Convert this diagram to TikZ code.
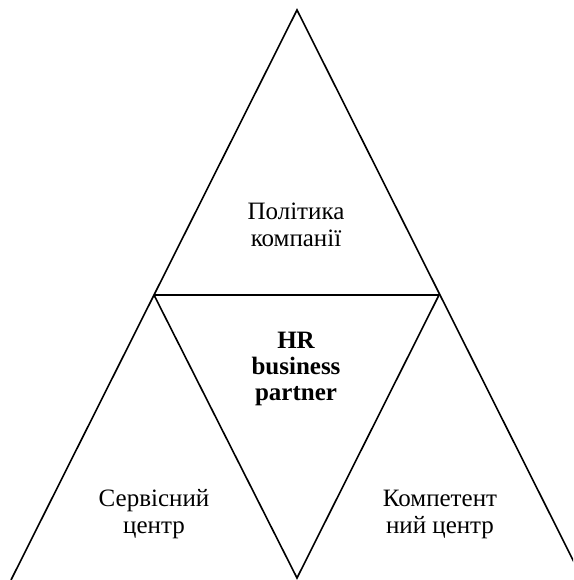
\documentclass[tikz,border=0pt]{standalone}
\usepackage{fontspec}
\setmainfont{Liberation Serif}
\usetikzlibrary{positioning}

\tikzset{
  edge/.style={line width=1.6pt, line join=miter},
  lbl/.style={align=center, inner sep=0pt, font=\fontsize{25}{27}\selectfont},
  blbl/.style={lbl, font=\fontsize{25}{26}\selectfont\bfseries}
}

\begin{document}
\begin{tikzpicture}[x=1pt,y=1pt]
\useasboundingbox (0,0) rectangle (573,580);
\clip (0,0) rectangle (573,580);

% corners of the big triangle and the midpoints
\coordinate (top) at (297,570);
\coordinate (ml) at (154,285);
\coordinate (mr) at (439,285);
\coordinate (bl) at (11,0);
\coordinate (br) at (583,0);
\coordinate (bm) at (297,2);

\draw[edge] (bl) -- (top) -- (br);
\draw[edge] (ml) -- (mr);
\draw[edge] (ml) -- (bm) -- (mr);

\node (policy) [lbl] at (296,355) {Політика\\компанії};
\node (hrbp) [blbl] at (296,211) {HR\\business\\partner};
\node (service) [lbl] at (154,66) {Сервісний\\центр};
\node (compet) [lbl] at (440,66) {Компетент\\ний центр};
\end{tikzpicture}
\end{document}
